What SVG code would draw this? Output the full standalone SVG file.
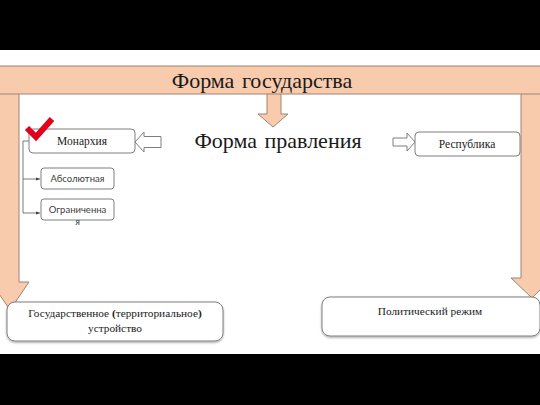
<svg xmlns="http://www.w3.org/2000/svg" width="540" height="405" viewBox="0 0 540 405">
<style>
.band{fill:#000}
.peach{fill:#F8CBAD;stroke:#A08472;stroke-width:1}
.box{fill:#fff;stroke:#7f7f7f;stroke-width:1}
.hollow{fill:#fff;stroke:#7f7f7f;stroke-width:1}
.ser{font-family:"Liberation Serif","Times New Roman",serif;fill:#1a1a1a;text-anchor:middle}
.sans{font-family:Lato,"Liberation Sans",sans-serif;fill:#404040;text-anchor:middle}
.line{fill:none;stroke:#595959;stroke-width:0.8}
</style>
<defs>
<marker id="ah" markerWidth="4" markerHeight="4" refX="4" refY="2" orient="auto" markerUnits="userSpaceOnUse">
<path d="M0,0.5 L4,2 L0,3.5 Z" fill="#404040"/>
</marker>
<filter id="sh" x="-5%" y="-10%" width="110%" height="130%">
<feDropShadow dx="0" dy="1.2" stdDeviation="0.8" flood-color="#000" flood-opacity="0.35"/>
</filter>
</defs>
<rect width="540" height="405" fill="#fff"/>
<rect class="band" x="0" y="0" width="540" height="50"/>
<rect class="band" x="0" y="354" width="540" height="51"/>

<g id="connectors">
<path class="peach" d="M-1,93 L19,93 L19,282 L29,282 L10,310 L-9,282 L-1,282 Z"/>
<path class="peach" d="M521,93 L541,93 L541,278 L552,278 L532,298 L511,278 L521,278 Z"/>
<path class="peach" d="M267,93 L281,93 L281,114 L288,114 L273,127 L258,114 L267,114 Z"/>
<path class="hollow" d="M135,142 L144,132 L144,136.5 L161,136.5 L161,147.5 L144,147.5 L144,152 Z"/>
<path class="hollow" d="M415,142 L407,133 L407,138 L393,138 L393,146 L407,146 L407,151 Z"/>
<path class="line" d="M29,141 L23,141 L23,213"/>
<path class="line" d="M23,179 L40,179" marker-end="url(#ah)"/>
<path class="line" d="M23,213 L40,213" marker-end="url(#ah)"/>
</g>

<g id="forma-gosudarstva">
<rect class="peach" x="-1" y="66" width="542" height="28"/>
<text class="ser" x="262" y="88" font-size="22" word-spacing="2">Форма государства</text>
</g>

<g id="forma-pravleniya">
<text class="ser" x="278" y="148" font-size="22" word-spacing="2">Форма правления</text>
</g>

<g id="monarkhiya">
<rect class="box" x="29" y="129" width="106" height="24" rx="4"/>
<text class="ser" x="82" y="145" font-size="11.5">Монархия</text>
<path d="M27,128 L36,137 L52,119" fill="none" stroke="#E3001B" stroke-width="6" stroke-linejoin="miter"/>
</g>

<g id="absolyutnaya">
<rect class="box" x="41" y="168" width="73" height="21" rx="3"/>
<text class="sans" x="77.5" y="182" font-size="9.5">Абсолютная</text>
</g>

<g id="ogranichennaya">
<rect class="box" x="41" y="199" width="73" height="21" rx="3"/>
<text class="sans" x="77.5" y="213" font-size="9.5">Ограниченна</text>
<text class="sans" x="77.5" y="225" font-size="9.5">я</text>
</g>

<g id="respublika">
<rect class="box" x="415" y="132" width="105" height="24" rx="4"/>
<text class="ser" x="467" y="148" font-size="11.5">Республика</text>
</g>

<g id="ustroystvo">
<rect class="box" x="7" y="302" width="216" height="39" rx="8" filter="url(#sh)"/>
<text class="ser" x="115" y="317" font-size="11.3">Государственное <tspan font-weight="bold">(</tspan>территориальное<tspan font-weight="bold">)</tspan></text>
<text class="ser" x="115" y="332" font-size="11.3">устройство</text>
</g>

<g id="politicheskiy-rezhim">
<rect class="box" x="322" y="297" width="218" height="39" rx="8" filter="url(#sh)"/>
<text class="ser" x="430" y="315" font-size="11.3">Политический режим</text>
</g>
</svg>
